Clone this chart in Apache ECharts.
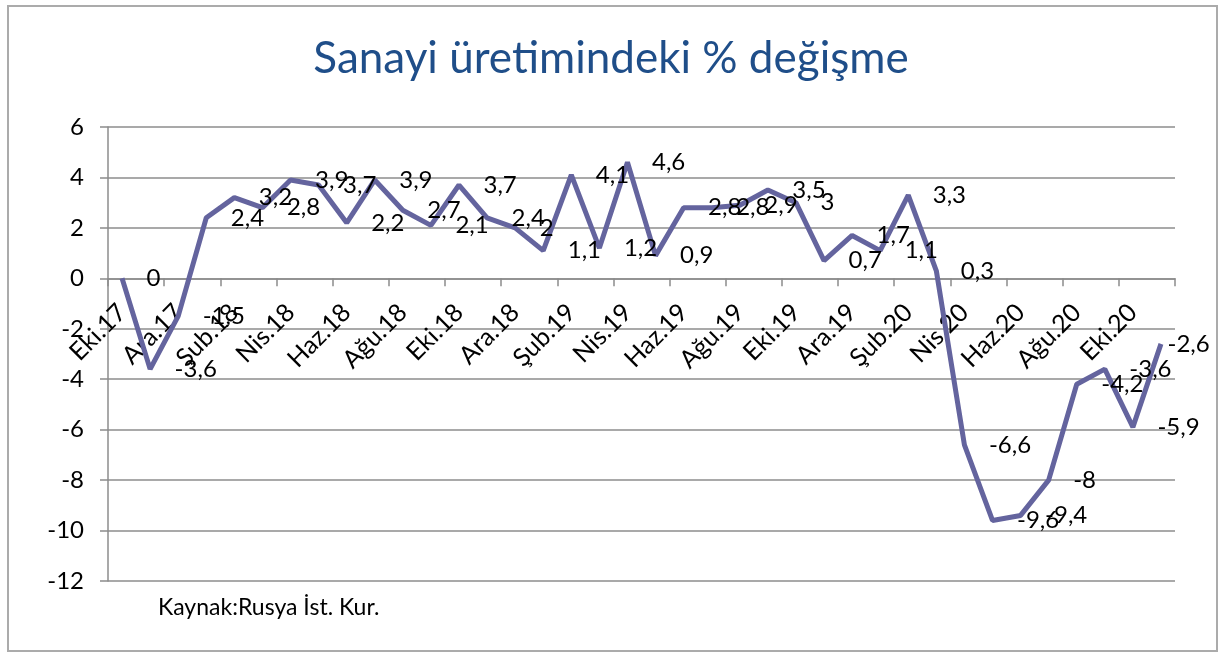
<!DOCTYPE html>
<html>
<head>
<meta charset="utf-8">
<title>Sanayi üretimindeki % değişme</title>
<script src="https://cdn.jsdelivr.net/npm/echarts@6/dist/echarts.min.js"></script>
<style>
  html, body { margin: 0; padding: 0; background: #fff; }
  #chart { width: 1222px; height: 653px; }
</style>
</head>
<body>
<div id="chart"></div>
<script>
// aylar: Eki.17 .. Kas.20
const months = [
  'Eki.17', 'Kas.17', 'Ara.17', 'Oca.18', 'Şub.18', 'Mar.18', 'Nis.18', 'May.18',
  'Haz.18', 'Tem.18', 'Ağu.18', 'Eyl.18', 'Eki.18', 'Kas.18', 'Ara.18', 'Oca.19',
  'Şub.19', 'Mar.19', 'Nis.19', 'May.19', 'Haz.19', 'Tem.19', 'Ağu.19', 'Eyl.19',
  'Eki.19', 'Kas.19', 'Ara.19', 'Oca.20', 'Şub.20', 'Mar.20', 'Nis.20', 'May.20',
  'Haz.20', 'Tem.20', 'Ağu.20', 'Eyl.20', 'Eki.20', 'Kas.20'
];
// sanayi üretimi, yıllık % değişme
const changes = [
  0, -3.6, -1.5, 2.4, 3.2, 2.8, 3.9, 3.7,
  2.2, 3.9, 2.7, 2.1, 3.7, 2.4, 2, 1.1,
  4.1, 1.2, 4.6, 0.9, 2.8, 2.8, 2.9, 3.5,
  3, 0.7, 1.7, 1.1, 3.3, 0.3, -6.6, -9.6,
  -9.4, -8, -4.2, -3.6, -5.9, -2.6
];
const yMin = -12;
const yMax = 6;
const yStep = 2;

const FONT = 'Lato, "Open Sans", sans-serif';
const GRID = { left: 108, right: 47, top: 127, bottom: 72 };
// x ekseni sıfır çizgisinde durur
const plotH = 653 - GRID.top - GRID.bottom;
const zeroOffset = -plotH * (0 - yMin) / (yMax - yMin);

// son etiket grafiğe sığsın diye noktaya daha yakın
const seriesData = changes.map((v, i) =>
  i === changes.length - 1 ? { value: v, label: { distance: 6 } } : v
);

const chart = echarts.init(document.getElementById('chart'));

chart.setOption({
  animation: false,
  backgroundColor: '#fff',
  title: {
    text: 'Sanayi üretimindeki % değişme',
    left: 'center',
    top: 32,
    textStyle: { fontFamily: FONT, fontSize: 44, fontWeight: 'normal', color: '#1F4E89' }
  },
  grid: GRID,
  xAxis: {
    type: 'category',
    data: months,
    boundaryGap: true,
    offset: zeroOffset,
    axisLine: { onZero: false, lineStyle: { color: '#8C8C8C', width: 1.5 } },
    axisTick: { show: true, interval: 1, length: 8, lineStyle: { color: '#8C8C8C', width: 1.5 } },
    axisLabel: {
      interval: 1,
      rotate: 45,
      margin: 30,
      fontFamily: FONT,
      fontSize: 25,
      color: '#000'
    },
    splitLine: { show: false }
  },
  yAxis: {
    type: 'value',
    min: yMin,
    max: yMax,
    interval: yStep,
    axisLine: { show: true, lineStyle: { color: '#8C8C8C', width: 1.5 } },
    axisTick: { show: true, length: 8, lineStyle: { color: '#8C8C8C', width: 1.5 } },
    axisLabel: {
      margin: 24,
      fontFamily: FONT,
      fontSize: 24,
      color: '#000'
    },
    splitLine: { lineStyle: { color: '#8C8C8C', width: 1.5 } }
  },
  series: [{
    name: 'Sanayi üretimi',
    type: 'line',
    data: seriesData,
    symbol: 'circle',
    symbolSize: 1,
    showSymbol: true,
    itemStyle: { color: 'rgba(0,0,0,0)', borderWidth: 0 },
    lineStyle: { color: '#64649E', width: 5 },
    z: 3,
    label: {
      show: true,
      position: 'right',
      distance: 24,
      fontFamily: FONT,
      fontSize: 24,
      color: '#000',
      formatter: (p) => String(p.value).replace('.', ',')
    }
  }],
  graphic: [
    {
      type: 'rect',
      shape: { x: 8, y: 6, width: 1209, height: 645 },
      style: { fill: null, stroke: '#ABABAB', lineWidth: 2 },
      silent: true
    },
    {
      type: 'text',
      left: 158,
      top: 596,
      style: { text: 'Kaynak:Rusya İst. Kur.', fontFamily: FONT, fontSize: 23, fill: '#000' }
    }
  ]
});

window.addEventListener('resize', () => chart.resize());
</script>
</body>
</html>
